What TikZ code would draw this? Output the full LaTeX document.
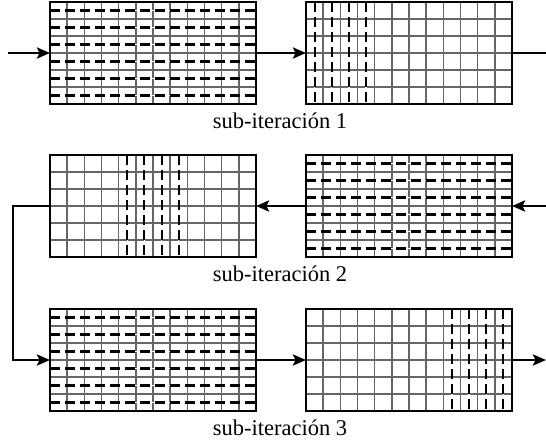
\documentclass[tikz,border=0pt]{standalone}
\usepackage{fontspec}
\setmainfont{Liberation Serif}
\usetikzlibrary{arrows.meta}

% cell grid of a block: 12 columns x 6 rows
\newcommand\mkgrid[1]{%
  \begin{scope}[shift={(#1.north west)}]
    \foreach \k in {1,...,11} \draw[gridline] ({\k*206/12},0) -- ++(0,102);
    \foreach \k in {1,...,5}  \draw[gridline] (0,{\k*17}) -- ++(206,0);
  \end{scope}}
% dashed lines through the middle of every row
\newcommand\mkhdash[1]{%
  \begin{scope}[shift={(#1.north west)}]
    \foreach \k in {0,...,5} {
      \draw[dashunder] (0,{(\k+0.5)*17}) -- ++(206,0);
      \draw[dashline]  (0,{(\k+0.5)*17}) -- ++(206,0);}
  \end{scope}}
% dashed lines through the middle of the given columns
\newcommand\mkvdash[2]{%
  \begin{scope}[shift={(#1.north west)}]
    \foreach \k in {#2} {
      \draw[dashunder] ({(\k+0.5)*206/12},0) -- ++(0,102);
      \draw[dashline]  ({(\k+0.5)*206/12},0) -- ++(0,102);}
  \end{scope}}
\newcommand\mkborder[1]{\draw[blockborder] (#1.north west) rectangle (#1.south east);}

\begin{document}
\begin{tikzpicture}[x=1pt,y=-1pt,
  block/.style={draw=none,fill=white,minimum width=206pt,minimum height=102pt,
    inner sep=0pt,outer sep=0pt},
  gridline/.style={draw=black!60,line width=1.6pt},
  dashunder/.style={draw=white,line width=1.2pt},
  dashline/.style={draw=black,line width=2.1pt,dash pattern=on 10pt off 5pt},
  blockborder/.style={draw=black,line width=1.9pt},
  flow/.style={draw=black,line width=2.7pt,
    -{Stealth[length=13pt,width=11pt,inset=2.5pt]}},
  plainflow/.style={draw=black,line width=2.7pt},
  caption/.style={anchor=base,font=\fontsize{22.5}{27}\selectfont,inner sep=0pt}]

\useasboundingbox (0,0) rectangle (546,442);

% blocks
\node[block] (b1) at (153,53)  {};
\node[block] (b2) at (409,53)  {};
\node[block] (b3) at (153,206) {};
\node[block] (b4) at (409,206) {};
\node[block] (b5) at (153,360) {};
\node[block] (b6) at (409,360) {};

\foreach \b in {b1,b2,b3,b4,b5,b6} {\mkgrid{\b}}
\mkhdash{b1}
\mkvdash{b2}{0,1,2,3}
\mkvdash{b3}{4,5,6,7}
\mkhdash{b4}
\mkhdash{b5}
\mkvdash{b6}{8,9,10,11}
\foreach \b in {b1,b2,b3,b4,b5,b6} {\mkborder{\b}}

% free ends of the flow
\coordinate (in1)   at (8,53);
\coordinate (out1)  at (546,53);
\coordinate (in2)   at (546,206);
\coordinate (turnA) at (13,206);
\coordinate (turnB) at (13,360);
\coordinate (out3)  at (546,360);

% flow between blocks
\draw[flow] (in1) -- (b1.west);
\draw[flow] (b1.east) -- (b2.west);
\draw[plainflow] (b2.east) -- (out1);
\draw[flow] (in2) -- (b4.east);
\draw[flow] (b4.west) -- (b3.east);
\draw[flow] (b3.west) -- (turnA) -- (turnB) -- (b5.west);
\draw[flow] (b5.east) -- (b6.west);
\draw[flow] (b6.east) -- (out3);

% captions
\node[caption] (c1) at (280,128) {sub-iteración 1};
\node[caption] (c2) at (280,281) {sub-iteración 2};
\node[caption] (c3) at (280,435) {sub-iteración 3};
\end{tikzpicture}
\end{document}
